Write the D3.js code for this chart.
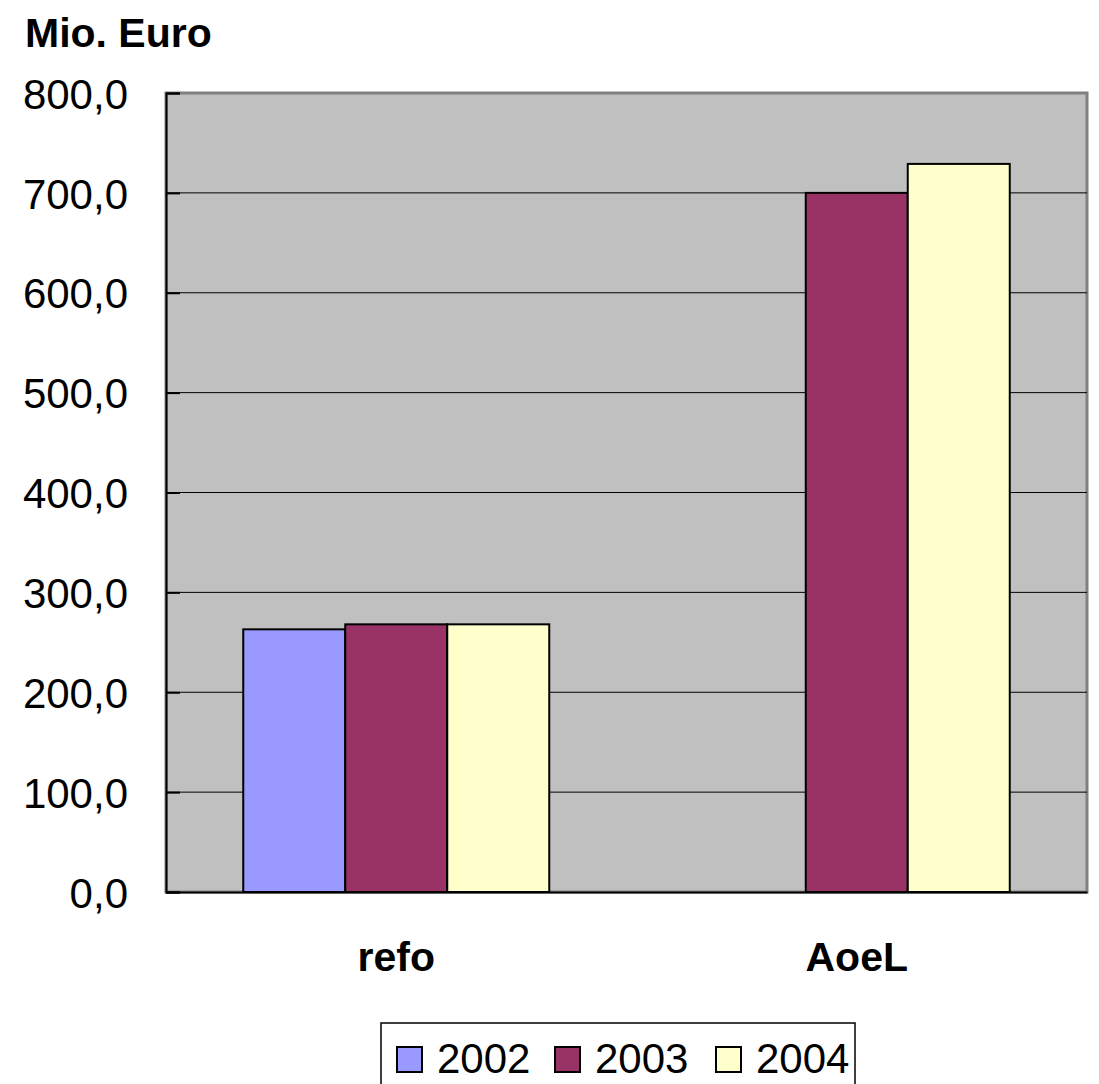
<!DOCTYPE html>
<html>
<head>
<meta charset="utf-8">
<script src="https://cdn.jsdelivr.net/npm/d3@7"></script>
<style>
  body { margin: 0; background: #fff; }
  text { font-family: "Liberation Sans", Arial, sans-serif; }
</style>
</head>
<body>
<script>
// chart data
var categories = ["refo", "AoeL"];
var years = ["2002", "2003", "2004"];
var values2002 = [263, null];
var values2003 = [268, 700];
var values2004 = [268, 729];
var yTicks = [0, 100, 200, 300, 400, 500, 600, 700, 800];
var colors = ["#9999FF", "#993366", "#FFFFCC"];

var seriesValues = [values2002, values2003, values2004];

var svgWidth = 1099;
var svgHeight = 1084;

var margin = { top: 93, right: 12, bottom: 192, left: 166 };
var chartWidth = svgWidth - margin.left - margin.right;
var chartHeight = svgHeight - margin.top - margin.bottom;

var svg = d3.select("body")
  .append("svg")
  .attr("width", svgWidth)
  .attr("height", svgHeight);

var chartGroup = svg.append("g")
  .attr("transform", `translate(${margin.left}, ${margin.top})`);

// scales
var xBand = d3.scaleBand()
  .domain(categories)
  .range([0, chartWidth])
  .paddingInner(0)
  .paddingOuter(0);

var groupWidth = xBand.bandwidth() * 306 / 460.5;
var xInner = d3.scaleBand()
  .domain(years)
  .range([(xBand.bandwidth() - groupWidth) / 2, (xBand.bandwidth() + groupWidth) / 2]);

var yLinearScale = d3.scaleLinear()
  .domain([0, 800])
  .range([chartHeight, 0]);

// plot background
chartGroup.append("rect")
  .attr("width", chartWidth)
  .attr("height", chartHeight)
  .attr("fill", "#C0C0C0")
  .attr("stroke", "#808080")
  .attr("stroke-width", 3);

// gridlines
chartGroup.selectAll(".grid")
  .data(yTicks.filter(d => d > 0 && d < 800))
  .enter()
  .append("line")
  .attr("x1", 0)
  .attr("x2", chartWidth)
  .attr("y1", d => yLinearScale(d))
  .attr("y2", d => yLinearScale(d))
  .attr("stroke", "#000")
  .attr("stroke-width", 1);

// bars
years.forEach(function(year, i) {
  var rows = categories.map((c, j) => ({ cat: c, value: seriesValues[i][j] }))
    .filter(d => d.value !== null);
  chartGroup.selectAll(".bar" + year)
    .data(rows)
    .enter()
    .append("rect")
    .attr("x", d => xBand(d.cat) + xInner(year))
    .attr("y", d => yLinearScale(d.value))
    .attr("width", xInner.bandwidth())
    .attr("height", d => chartHeight - yLinearScale(d.value))
    .attr("fill", colors[i])
    .attr("stroke", "#000")
    .attr("stroke-width", 2);
});

// left axis with inside ticks
var leftAxis = d3.axisLeft(yLinearScale)
  .tickValues(yTicks)
  .tickSize(-14)
  .tickFormat(d => d3.format(".1f")(d).replace(".", ","));

var yAxisG = chartGroup.append("g").call(leftAxis);
yAxisG.select(".domain").attr("stroke", "#000").attr("stroke-width", 2);
yAxisG.selectAll(".tick line").attr("stroke", "#000").attr("stroke-width", 2);
yAxisG.selectAll(".tick text")
  .attr("x", -38)
  .attr("dy", "0.36em")
  .attr("font-size", 42)
  .attr("fill", "#000");

// bottom axis
var bottomAxis = d3.axisBottom(xBand).tickSize(0);
var xAxisG = chartGroup.append("g")
  .attr("transform", `translate(0, ${chartHeight})`)
  .call(bottomAxis);
xAxisG.select(".domain").attr("stroke", "#000").attr("stroke-width", 2);
xAxisG.selectAll(".tick text")
  .attr("y", 79)
  .attr("dy", 0)
  .attr("font-size", 41)
  .attr("font-weight", "bold")
  .attr("fill", "#000");

// unit label
svg.append("text")
  .attr("x", 25)
  .attr("y", 47)
  .attr("font-size", 41)
  .attr("font-weight", "bold")
  .text("Mio. Euro");

// legend
var legend = svg.append("g").attr("transform", "translate(381, 1023)");
legend.append("rect")
  .attr("width", 474)
  .attr("height", 80)
  .attr("fill", "#fff")
  .attr("stroke", "#000")
  .attr("stroke-width", 1.5);

var legendX = [16, 174, 335];
years.forEach(function(year, i) {
  var item = legend.append("g").attr("transform", `translate(${legendX[i]}, 0)`);
  item.append("rect")
    .attr("y", 24)
    .attr("width", 25)
    .attr("height", 25)
    .attr("fill", colors[i])
    .attr("stroke", "#000")
    .attr("stroke-width", 2);
  item.append("text")
    .attr("x", 40)
    .attr("y", 50)
    .attr("font-size", 42)
    .text(year);
});
</script>
</body>
</html>
